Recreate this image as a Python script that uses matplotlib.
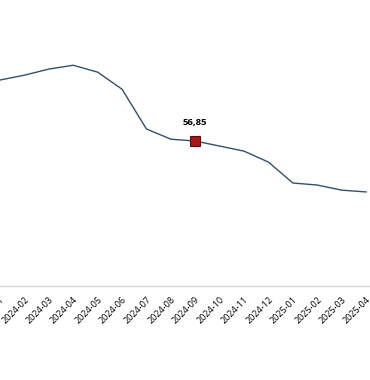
import matplotlib
matplotlib.use("Agg")
import matplotlib.pyplot as plt
import matplotlib.transforms as mtransforms

months = ["2024-01", "2024-02", "2024-03", "2024-04", "2024-05", "2024-06",
          "2024-07", "2024-08", "2024-09", "2024-10", "2024-11", "2024-12",
          "2025-01", "2025-02", "2025-03", "2025-04"]
values = [80.8, 82.7, 85.1, 86.6, 83.9, 77.2, 61.6, 57.6, 56.85, 54.9,
          52.9, 48.6, 40.4, 39.6, 37.6, 36.9]
highlight_month = "2024-09"
highlight_label = "56,85"

plt.rcParams['font.family'] = ['Open Sans', 'DejaVu Sans']

fig = plt.figure(figsize=(3.7, 3.8), dpi=100)
ax = fig.add_axes([0, 0.2474, 1, 0.7526])

xs = list(range(len(months)))
ax.plot(xs, values, color="#34506a", lw=1.0, zorder=2)

hi = months.index(highlight_month)
ax.plot([hi], [values[hi]], marker="s", markersize=7.5, color="#a8151b",
        markeredgecolor="#5e0a0c", markeredgewidth=0.8, zorder=3)
ax.annotate(highlight_label, (hi, values[hi]), xytext=(0, 13.5),
            textcoords="offset points", ha="center", va="center",
            fontsize=6.8, fontweight="bold", color="#000000")

ax.set_xlim(0.36, 15.16)
ax.set_ylim(0, 112.2)
ax.set_xticks(xs)
ax.set_xticklabels(months, rotation=45, ha="right", rotation_mode="anchor",
                   va="center", fontsize=6.5, color="#000000")
ax.tick_params(axis="x", length=0, pad=9)
offset = mtransforms.ScaledTranslation(3/100, 0, fig.dpi_scale_trans)
for lab in ax.get_xticklabels():
    lab.set_transform(lab.get_transform() + offset)
ax.set_yticks([])
for s in ["top", "left", "right"]:
    ax.spines[s].set_visible(False)
ax.spines["bottom"].set_color("#d9d9d9")
ax.spines["bottom"].set_linewidth(1.0)

fig.savefig("out.png", dpi=100)
